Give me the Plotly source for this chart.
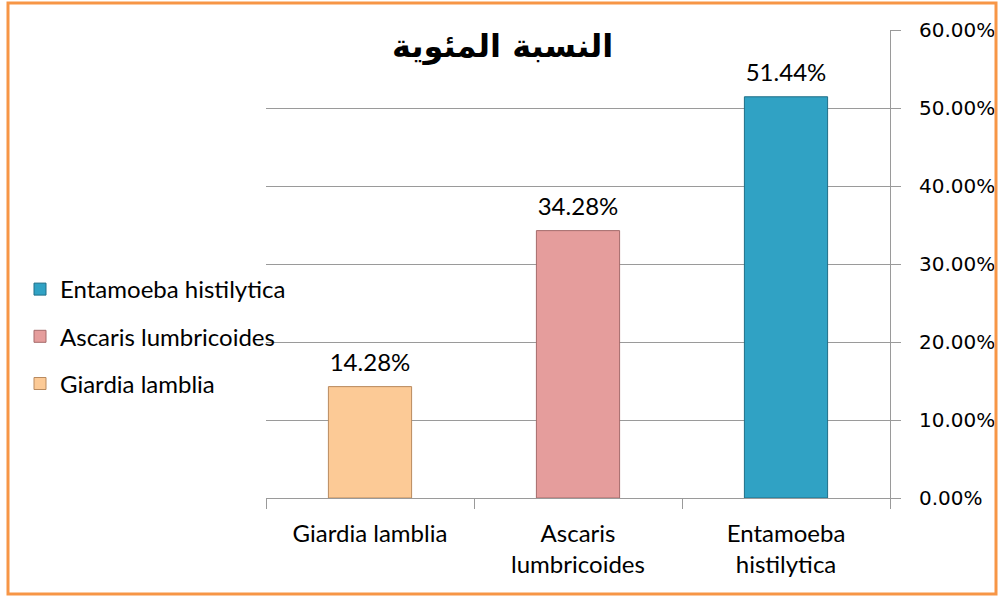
import plotly.graph_objects as go

categories = ["Giardia lamblia", "Ascaris lumbricoides", "Entamoeba histilytica"]
tick_labels = ["Giardia lamblia", "Ascaris<br>lumbricoides", "Entamoeba<br>histilytica"]
values = [0.1428, 0.3428, 0.5144]
fill_colors = ["#FCCA96", "#E59D9C", "#30A2C4"]
edge_colors = ["#B98A5E", "#A56B6B", "#1F6F88"]
title_text = "النسبة المئوية"

fig = go.Figure()
for i, (cat, val) in enumerate(zip(categories, values)):
    fig.add_trace(go.Bar(
        x=[cat], y=[val], name=cat, width=0.4,
        marker=dict(color=fill_colors[i], line=dict(color=edge_colors[i], width=1)),
        legendgroup=f"g{i}", legendrank=10 - i, showlegend=True, hoverinfo="skip",
    ))

fig.add_trace(go.Scatter(
    x=categories, y=values, mode="markers+text",
    text=[f"{v*100:.2f}%" for v in values], textposition="top center",
    marker=dict(size=14, opacity=0), showlegend=False, hoverinfo="skip",
    textfont=dict(family="Lato", size=24, color="#000000"), cliponaxis=False,
))

L, R, T, B = 266, 108, 30, 98
W, H = 998, 596
pw, ph = W - L - R, H - T - B

def px_x(p):
    return (p - L) / pw

def px_y(p):
    return (H - B - p) / ph

fig.update_layout(
    width=W, height=H, autosize=False,
    margin=dict(l=L, r=R, t=T, b=B),
    paper_bgcolor="white", plot_bgcolor="white",
    barmode="overlay",
    font=dict(family="Lato", color="#000000"),
    legend=dict(
        x=px_x(20), y=px_y(267), xanchor="left", yanchor="top",
        traceorder="grouped", tracegroupgap=13,
        font=dict(family="Lato", size=24, color="#000000"),
        bgcolor="rgba(0,0,0,0)", itemclick=False,
    ),
    xaxis=dict(
        type="category", categoryorder="array", categoryarray=categories,
        tickvals=categories, ticktext=tick_labels,
        tickson="boundaries", ticks="outside", ticklen=10, tickcolor="#9A9A9A",
        ticklabelstandoff=14, automargin=False,
        showline=True, linecolor="#9A9A9A", linewidth=1, showgrid=False,
        tickfont=dict(family="Lato", size=24, color="#000000"),
        range=[-0.5, 2.5], zeroline=False,
    ),
    yaxis=dict(
        side="right", range=[0, 0.6], dtick=0.1, tickformat=".2%",
        showline=True, linecolor="#9A9A9A", linewidth=1, automargin=False,
        ticks="outside", ticklen=10, tickcolor="#9A9A9A", ticklabelstandoff=14,
        showgrid=True, gridcolor="#9A9A9A", gridwidth=1, zeroline=False,
        tickfont=dict(family="DejaVu Sans", size=20, color="#000000"),
    ),
    annotations=[dict(
        text=f"<b>{title_text}</b>", xref="paper", yref="paper",
        x=px_x(502), y=px_y(46), xanchor="center", yanchor="middle",
        showarrow=False, font=dict(family="DejaVu Sans", size=32, color="#000000"),
    )],
    shapes=[dict(
        type="rect", xref="paper", yref="paper",
        x0=px_x(8), x1=px_x(996), y0=px_y(594), y1=px_y(3),
        line=dict(color="#F79646", width=3), layer="above",
    )],
)

fig.write_html(
    "out.html",
    config={"responsive": False, "displayModeBar": False},
    post_script="document.body.style.margin='0';",
)
